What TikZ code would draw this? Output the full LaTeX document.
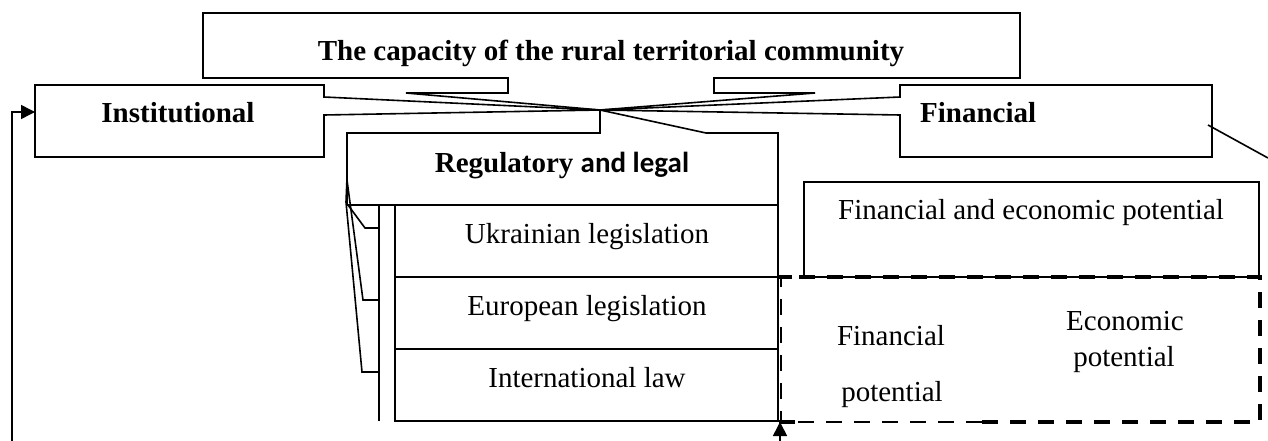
\documentclass[tikz,border=0pt]{standalone}
\usepackage{fontspec}
\setmainfont{Liberation Serif}
\newfontfamily\calib{Carlito}
\usetikzlibrary{arrows.meta}
\tikzset{
  outl/.style={line width=1.6pt, line join=miter},
  txtb/.style={inner sep=0pt, font=\fontsize{29}{34}\selectfont\bfseries},
  txtr/.style={inner sep=0pt, font=\fontsize{29}{34}\selectfont},
  thickdash/.style={line width=3.6pt, dash pattern=on 16pt off 12pt},
  thindash/.style={line width=1.3pt, dash pattern=on 16pt off 12pt},
  arr/.style={outl, -{Triangle[length=14pt,width=14pt]}}
}
\begin{document}
\begin{tikzpicture}[x=1pt,y=-1pt]
\useasboundingbox (0,0) rectangle (1268,441);
\coordinate (P) at (600,110);
% top box (callout)
\draw[outl] (508,78) -- (203,78) -- (203,13) -- (1020,13) -- (1020,78) -- (714,78) -- (714,93) -- (815,93) -- (P) -- (406,93) -- (508,93) -- cycle;
% institutional callout
\draw[outl] (324,97) -- (324,85) -- (35,85) -- (35,157) -- (324,157) -- (324,115) -- (P) -- cycle;
% financial callout
\draw[outl] (900,97) -- (900,85) -- (1212,85) -- (1212,157) -- (900,157) -- (900,115) -- (P) -- cycle;
% regulatory callout
\draw[outl] (600,133) -- (347,133) -- (347,205) -- (778,205) -- (778,133) -- (706,133) -- (P) -- cycle;
% stack of law boxes
\draw[outl] (395,205) rectangle (778,421);
\draw[outl] (395,277) -- (778,277);
\draw[outl] (395,349) -- (778,349);
\draw[outl] (379,205) -- (379,421);
% pointers of the law boxes
\draw[outl] (348,205) -- (365,228) -- (379,228);
\draw[outl] (347,180) -- (363,300) -- (379,300);
\draw[outl] (347,178) -- (346,202) -- (362,372) -- (379,372);
% financial and economic potential box
\draw[outl] (804,182) rectangle (1259,277);
% dashed area
\draw[thickdash] (982,422) -- (1260,422) -- (1260,277) -- (779,277);
\draw[thindash] (982,422) -- (781,422) -- (781,277);
\draw[line width=3.6pt] (779,422) -- (795,422);
\draw[line width=3.6pt] (779,277) -- (792,277);
% diagonal from financial
\coordinate (fd1) at (1208,125);
\coordinate (fd2) at (1268,158);
\draw[outl] (fd1) -- (fd2);
% arrows
\coordinate (leftfoot) at (12,441);
\coordinate (instin) at (35,112);
\draw[arr] (leftfoot) |- (instin);
\coordinate (botfoot) at (780,441);
\coordinate (dashin) at (780,422);
\draw[arr] (botfoot) -- (dashin);
% texts
\node[txtb, anchor=base] (title) at (611,61) {The capacity of the rural territorial community};
\node[txtb, anchor=base] (inst) at (178,123) {Institutional};
\node[txtb, anchor=base west] (fin) at (920,123) {Financial};
\node[txtb, anchor=base] (reg) at (562,172) {Regulatory {\calib\bfseries and legal}};
\node[txtr, anchor=base] (ukr) at (587,243) {Ukrainian legislation};
\node[txtr, anchor=base] (eur) at (587,315) {European legislation};
\node[txtr, anchor=base] (intl) at (587,387) {International law};
\node[txtr, anchor=base] (fep) at (1031,219) {Financial and economic potential};
\node[txtr, anchor=base] (finp1) at (891,345) {Financial};
\node[txtr, anchor=base] (finp2) at (892,401) {potential};
\node[txtr, anchor=base] (eco1) at (1125,330) {Economic};
\node[txtr, anchor=base] (eco2) at (1124,366) {potential};
\end{tikzpicture}
\end{document}
